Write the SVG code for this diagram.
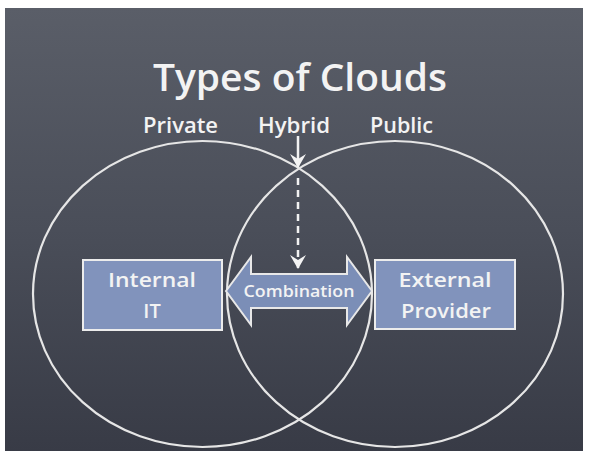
<svg xmlns="http://www.w3.org/2000/svg" width="590" height="456" viewBox="0 0 590 456">
  <defs>
    <linearGradient id="board" x1="0" y1="0" x2="0" y2="1">
      <stop offset="0" stop-color="#5a5e68"/>
      <stop offset="0.5" stop-color="#4a4e59"/>
      <stop offset="1" stop-color="#383b46"/>
    </linearGradient>
    <marker id="chev" viewBox="0 0 14 16" refX="13" refY="8" markerWidth="14" markerHeight="16" markerUnits="userSpaceOnUse" orient="auto">
      <path d="M0,0 L5,8 L0,16 L14,8 Z" fill="#f4f4f4"/>
    </marker>
  </defs>
  <style>
    .chalk { font-family: "Open Sans", "DejaVu Sans", sans-serif; fill: #f3f3f3; font-weight: 600; }
    .ring { fill: none; stroke: #e6e6e6; stroke-width: 2.2; }
    .box { fill: #8193bc; stroke: #ececec; stroke-width: 2; }
    .boxtxt { font-size: 20px; text-anchor: middle; }
    .lbl { font-size: 21px; text-anchor: middle; }
    .conn { stroke: #f2f2f2; stroke-width: 2.5; fill: none; }
  </style>
  <rect x="0" y="0" width="590" height="456" fill="#ffffff"/>
  <rect x="5" y="8" width="578" height="443" fill="url(#board)"/>

  <g id="title">
    <text class="chalk" x="300" y="91" font-size="38" text-anchor="middle" textLength="294" lengthAdjust="spacingAndGlyphs">Types of Clouds</text>
  </g>

  <g id="circle-private">
    <ellipse class="ring" cx="202.5" cy="294" rx="169.5" ry="153"/>
    <text class="chalk lbl" x="180.5" y="133" textLength="75" lengthAdjust="spacingAndGlyphs">Private</text>
  </g>
  <g id="circle-public">
    <ellipse class="ring" cx="395" cy="294" rx="168" ry="153"/>
    <text class="chalk lbl" x="401.5" y="133" textLength="63" lengthAdjust="spacingAndGlyphs">Public</text>
  </g>
  <g id="label-hybrid">
    <text class="chalk lbl" x="294" y="133" textLength="72" lengthAdjust="spacingAndGlyphs">Hybrid</text>
  </g>

  <g id="box-internal">
    <rect class="box" x="83" y="260" width="139" height="70"/>
    <text class="chalk boxtxt" x="152" y="287" textLength="88" lengthAdjust="spacingAndGlyphs">Internal</text>
    <text class="chalk boxtxt" x="152" y="318">IT</text>
  </g>

  <g id="box-external">
    <rect class="box" x="375" y="260" width="140" height="69"/>
    <text class="chalk boxtxt" x="445" y="287" textLength="93" lengthAdjust="spacingAndGlyphs">External</text>
    <text class="chalk boxtxt" x="446" y="318" textLength="90" lengthAdjust="spacingAndGlyphs">Provider</text>
  </g>

  <g id="arrow-combination">
    <path d="M226,291 L251,257 L251,274 L347,274 L347,257 L372,291 L347,325 L347,308 L251,308 L251,325 Z" fill="#7b8eb7" stroke="#e8e8e8" stroke-width="2" stroke-linejoin="miter"/>
    <text class="chalk" x="299" y="297" font-size="17" text-anchor="middle" textLength="111" lengthAdjust="spacingAndGlyphs">Combination</text>
  </g>

  <g id="connectors">
    <line class="conn" x1="298" y1="136" x2="298" y2="167" marker-end="url(#chev)"/>
    <line class="conn" x1="298" y1="178" x2="298" y2="268" stroke-dasharray="7 5" marker-end="url(#chev)"/>
  </g>
</svg>
